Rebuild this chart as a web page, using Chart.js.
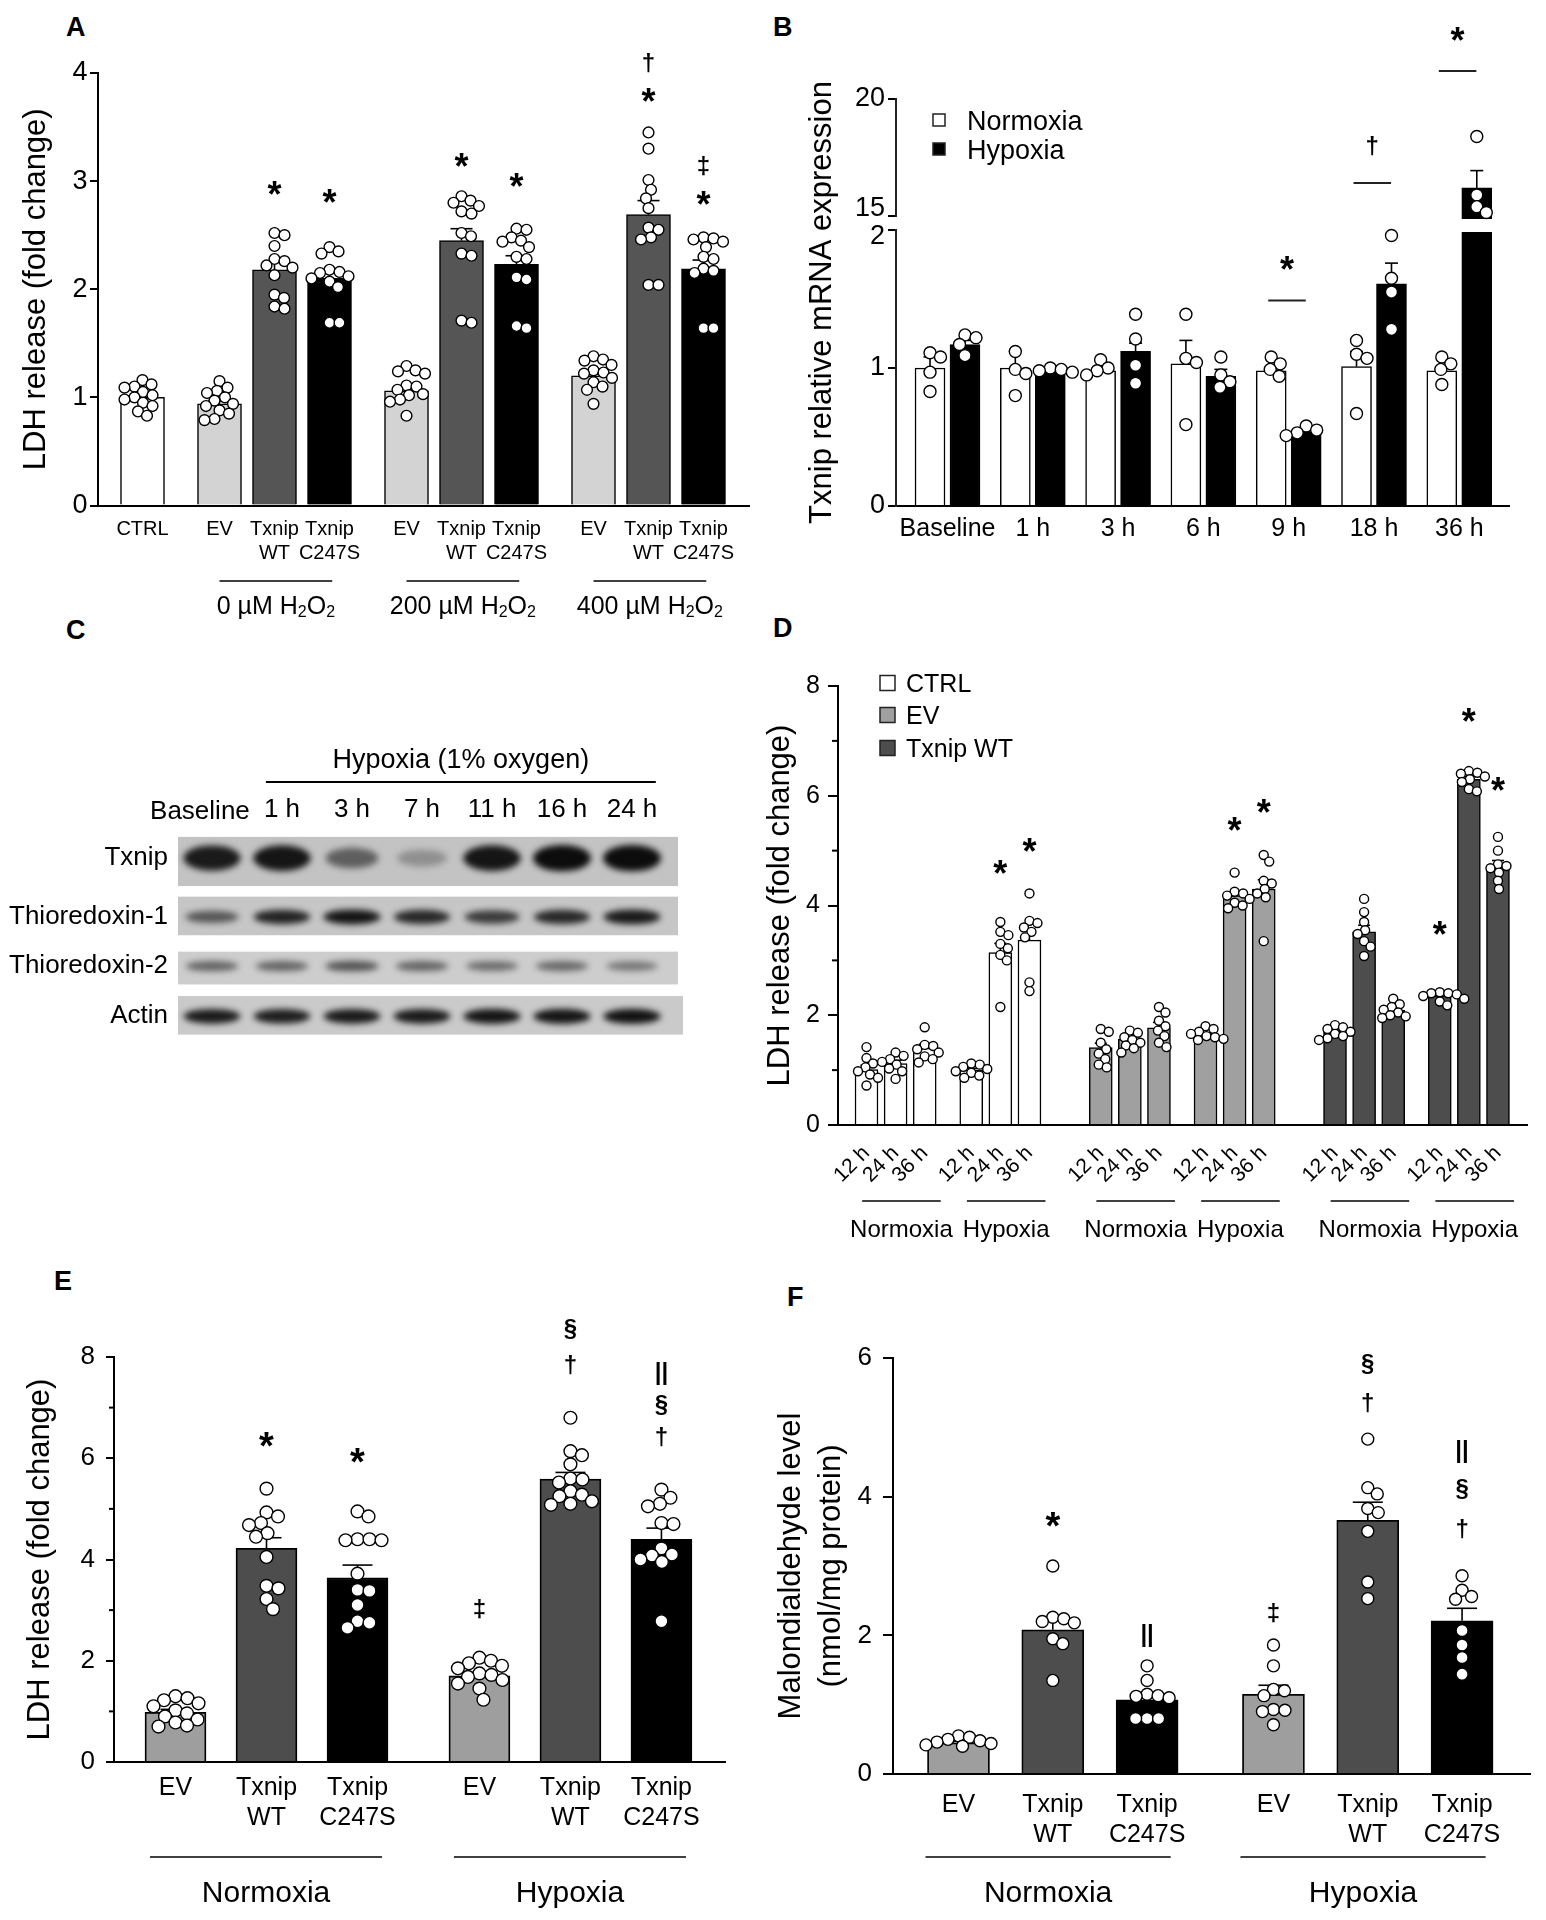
<!DOCTYPE html>
<html>
<head>
<meta charset="utf-8">
<title>Txnip figure</title>
<script src="https://cdn.jsdelivr.net/npm/chart.js@4.4.1/dist/chart.umd.min.js"></script>
<style>
  html, body { margin: 0; padding: 0; background: #fff; }
  #page { position: relative; width: 1546px; height: 1920px; overflow: hidden; background: #fff; }
  #page canvas { position: absolute; }
  .tag { position: absolute; font: bold 27px "Liberation Sans", Arial, sans-serif; line-height: 27px; color: #000; }
</style>
</head>
<body>
<div id="page">
  <div class="tag" style="left:66px;top:14px">A</div>
  <div class="tag" style="left:773px;top:14px">B</div>
  <div class="tag" style="left:66px;top:617px">C</div>
  <div class="tag" style="left:773px;top:615px">D</div>
  <div class="tag" style="left:54px;top:1268px">E</div>
  <div class="tag" style="left:787px;top:1284px">F</div>
</div>
<script>
// ---------- A: LDH release, H2O2 dose ----------
const aConstructs = ['CTRL', 'EV', 'WT', 'C247S', 'EV', 'WT', 'C247S', 'EV', 'WT', 'C247S'];
const aGroupSizes = [1, 3, 3, 3];
const aGroupNames = ['', '0 µM H_2O_2', '200 µM H_2O_2', '400 µM H_2O_2'];
const aMeans = [1.00, 0.94, 2.18, 2.10, 1.06, 2.45, 2.23, 1.20, 2.69, 2.19];
const aSems = [0.03, 0.03, 0.07, 0.06, 0.04, 0.11, 0.08, 0.04, 0.13, 0.08];
const aDots = [
  [1.16, 1.12, 1.10, 1.09, 1.05, 1.02, 1.00, 0.98, 0.95, 0.92, 0.87, 0.83],
  [1.15, 1.09, 1.06, 1.04, 1.00, 0.97, 0.94, 0.92, 0.88, 0.85, 0.80, 0.79],
  [2.52, 2.50, 2.40, 2.28, 2.26, 2.22, 2.20, 2.13, 1.95, 1.92, 1.84, 1.82],
  [2.39, 2.35, 2.33, 2.18, 2.16, 2.15, 2.12, 2.10, 2.07, 2.02, 1.69, 1.69],
  [1.29, 1.25, 1.24, 1.22, 1.11, 1.10, 1.07, 1.03, 1.02, 0.98, 0.96, 0.83],
  [2.86, 2.82, 2.80, 2.77, 2.72, 2.70, 2.52, 2.49, 2.33, 2.31, 1.71, 1.69],
  [2.56, 2.55, 2.48, 2.45, 2.44, 2.39, 2.30, 2.28, 2.11, 2.09, 1.66, 1.64],
  [1.38, 1.35, 1.34, 1.30, 1.25, 1.23, 1.22, 1.18, 1.14, 1.10, 1.07, 0.94],
  [3.45, 3.30, 3.01, 2.92, 2.84, 2.75, 2.57, 2.55, 2.48, 2.46, 2.04, 2.04],
  [2.48, 2.47, 2.46, 2.44, 2.39, 2.30, 2.28, 2.19, 2.17, 2.15, 1.64, 1.64]
];
const aYTicks = [0, 1, 2, 3, 4];
// [bar, level, symbol]
const aMarks = [[2, 2.94, '*'], [3, 2.86, '*'], [5, 3.20, '*'], [6, 3.01, '*'],
  [8, 4.09, '†'], [8, 3.80, '*'], [9, 3.14, '‡'], [9, 2.84, '*']];

// ---------- B: Txnip mRNA, hypoxia time course ----------
const bTimes = ['Baseline', '1 h', '3 h', '6 h', '9 h', '18 h', '36 h'];
const bSeries = ['Normoxia', 'Hypoxia'];
const bNormMeans = [1.00, 1.00, 0.98, 1.03, 0.98, 1.01, 0.98];
const bHypMeans = [1.17, 0.98, 1.12, 0.94, 0.54, 1.61, 16.2];
const bNormSems = [0.08, 0.12, 0.02, 0.17, 0.02, 0.11, 0.02];
const bHypSems = [0.03, 0.01, 0.06, 0.05, 0.02, 0.15, 0.74];
const bNormDots = [[1.11, 1.08, 0.97, 0.83], [1.12, 0.99, 0.96, 0.80], [1.06, 1.00, 0.98, 0.95],
  [1.39, 1.07, 1.04, 0.59], [1.08, 1.03, 0.99, 0.94], [1.20, 1.10, 1.07, 0.67], [1.08, 1.03, 0.99, 0.88]];
const bHypDots = [[1.24, 1.22, 1.17, 1.09], [1.00, 0.99, 0.98, 0.97], [1.39, 1.21, 1.02, 0.89],
  [1.08, 0.95, 0.90, 0.86], [0.58, 0.55, 0.53, 0.51], [1.96, 1.65, 1.55, 1.28], [18.4, 15.9, 15.4, 15.15]];
const bYTicks = [0, 1, 2, 15, 20];
const bBreak = [2, 15];
const bTop = 20;
// [time, line level, symbol level, symbol]
const bSig = [[4, 1.49, 1.69, '*'], [5, 16.41, 17.99, '†'], [6, 21.2, 22.78, '*']];

// ---------- C: western blot ----------
const cLanes = ['Baseline', '1 h', '3 h', '7 h', '11 h', '16 h', '24 h'];
const cProteins = ['Txnip', 'Thioredoxin-1', 'Thioredoxin-2', 'Actin'];
const cTxnip = [0.92, 0.95, 0.55, 0.28, 0.95, 1.00, 1.00];
const cTrx1 = [0.60, 0.88, 0.95, 0.85, 0.75, 0.85, 0.92];
const cTrx2 = [0.55, 0.55, 0.62, 0.55, 0.50, 0.52, 0.45];
const cActin = [0.92, 0.90, 0.92, 0.92, 0.95, 0.95, 0.97];

// ---------- D: LDH release, hypoxia duration ----------
const dConstructs = ['CTRL', 'EV', 'Txnip WT'];
const dConditions = ['Normoxia', 'Hypoxia'];
const dTimes = ['12 h', '24 h', '36 h'];
const dMeans = [1.01, 1.12, 1.40, 1.00, 3.14, 3.37, 1.41, 1.56, 1.77, 1.65, 4.18, 4.30, 1.72, 3.52, 2.09, 2.35, 6.30, 4.72];
const dSems = [0.08, 0.06, 0.07, 0.03, 0.17, 0.20, 0.08, 0.05, 0.10, 0.03, 0.07, 0.17, 0.03, 0.12, 0.04, 0.03, 0.05, 0.10];
const dDots = [
  [1.42, 1.22, 1.12, 1.05, 0.98, 0.92, 0.86, 0.72],
  [1.32, 1.26, 1.20, 1.15, 1.10, 1.03, 0.98, 0.84],
  [1.78, 1.46, 1.44, 1.38, 1.32, 1.25, 1.20, 1.14],
  [1.12, 1.10, 1.06, 1.02, 0.98, 0.95, 0.90, 0.86],
  [3.70, 3.52, 3.46, 3.30, 3.22, 3.10, 3.00, 2.15],
  [4.22, 3.72, 3.68, 3.60, 3.52, 3.42, 2.60, 2.44],
  [1.75, 1.70, 1.50, 1.38, 1.30, 1.20, 1.10, 1.05],
  [1.72, 1.68, 1.60, 1.55, 1.50, 1.45, 1.40, 1.32],
  [2.15, 2.05, 1.90, 1.80, 1.72, 1.62, 1.50, 1.42],
  [1.80, 1.75, 1.70, 1.66, 1.62, 1.60, 1.57, 1.55],
  [4.60, 4.25, 4.22, 4.18, 4.12, 4.05, 4.00, 3.95],
  [4.92, 4.80, 4.45, 4.40, 4.30, 4.22, 4.15, 3.35],
  [1.82, 1.78, 1.75, 1.70, 1.66, 1.62, 1.58, 1.55],
  [4.12, 3.88, 3.70, 3.55, 3.48, 3.35, 3.25, 3.08],
  [2.30, 2.20, 2.15, 2.10, 2.05, 2.00, 1.98, 1.95],
  [2.42, 2.40, 2.40, 2.38, 2.35, 2.30, 2.25, 2.18],
  [6.45, 6.42, 6.40, 6.35, 6.30, 6.25, 6.12, 6.08],
  [5.25, 5.00, 4.75, 4.72, 4.68, 4.60, 4.45, 4.30]
];
const dYTicks = [0, 2, 4, 6, 8];
const dMinor = [1, 3, 5, 7];
const dMarks = [[4, 4.70, '*'], [5, 5.10, '*'], [10, 5.48, '*'], [11, 5.81, '*'], [15, 3.59, '*'], [16, 7.47, '*'], [17, 6.21, '*']];

// ---------- E: LDH release, Txnip mutants ----------
const eConstructs = ['EV', 'WT', 'C247S'];
const eConditions = ['Normoxia', 'Hypoxia'];
const eMeans = [0.98, 4.22, 3.64, 1.70, 5.59, 4.40];
const eSems = [0.06, 0.21, 0.25, 0.07, 0.13, 0.22];
const eDots = [
  [1.30, 1.26, 1.22, 1.16, 1.10, 1.02, 0.96, 0.90, 0.84, 0.78, 0.72, 0.70],
  [5.40, 4.93, 4.85, 4.72, 4.68, 4.52, 4.45, 4.05, 3.48, 3.43, 3.22, 3.02],
  [4.95, 4.85, 4.40, 4.40, 4.38, 4.38, 3.72, 3.40, 3.38, 3.10, 2.78, 2.75, 2.65],
  [2.06, 2.00, 1.95, 1.90, 1.85, 1.75, 1.72, 1.68, 1.62, 1.55, 1.45, 1.23],
  [6.80, 6.14, 6.06, 5.88, 5.60, 5.58, 5.52, 5.35, 5.28, 5.25, 5.15, 5.10, 5.08],
  [5.38, 5.22, 5.10, 5.05, 4.72, 4.70, 4.22, 4.10, 4.08, 4.00, 3.95, 2.78]
];
const eYTicks = [0, 2, 4, 6, 8];
const eMinor = [1, 3, 5, 7];
const eMarks = [[1, 6.38, '*'], [2, 6.05, '*'], [3, 3.02, '‡'], [4, 8.56, '§'], [4, 7.85, '†'],
  [5, 7.67, '||'], [5, 7.06, '§'], [5, 6.42, '†']];

// ---------- F: malondialdehyde ----------
const fMeans = [0.45, 2.08, 1.07, 1.15, 3.66, 2.21];
const fSems = [0.02, 0.17, 0.09, 0.13, 0.26, 0.18];
const fDots = [
  [0.55, 0.53, 0.50, 0.48, 0.46, 0.44, 0.42, 0.40],
  [3.00, 2.26, 2.24, 2.20, 2.18, 1.95, 1.88, 1.35],
  [1.56, 1.35, 1.15, 1.13, 1.12, 1.10, 0.80, 0.80, 0.80],
  [1.86, 1.56, 1.22, 1.20, 1.13, 0.93, 0.92, 0.90, 0.71],
  [4.83, 4.13, 4.04, 3.83, 3.77, 3.50, 2.77, 2.53],
  [2.86, 2.65, 2.56, 2.52, 2.07, 1.86, 1.68, 1.44]
];
const fYTicks = [0, 2, 4, 6];
const fMarks = [[1, 3.67, '*'], [2, 2.00, '||'], [3, 2.32, '‡'], [4, 5.92, '§'], [4, 5.35, '†'],
  [5, 4.65, '||'], [5, 4.11, '§'], [5, 3.53, '†']];

// ---------- helpers ----------
const FONT = '"Liberation Sans", Arial, Helvetica, sans-serif';
Chart.defaults.font.family = FONT;
Chart.defaults.color = '#000';
const page = document.getElementById('page');

function font(size, bold) { return (bold ? 'bold ' : '') + size + 'px ' + FONT; }

function addCanvas(b) {
  const cv = document.createElement('canvas');
  cv.width = b.w; cv.height = b.h;
  cv.style.left = b.l + 'px'; cv.style.top = b.t + 'px';
  cv.style.width = b.w + 'px'; cv.style.height = b.h + 'px';
  page.appendChild(cv);
  return cv;
}

function line(ctx, x1, y1, x2, y2, w) {
  ctx.lineWidth = w;
  ctx.beginPath(); ctx.moveTo(x1, y1); ctx.lineTo(x2, y2); ctx.stroke();
}

// symbol centred on (x, cy) using its real ink box
function sym(ctx, t, x, cy, size) {
  ctx.font = font(size, true);
  const m = ctx.measureText(t);
  ctx.textAlign = 'center'; ctx.textBaseline = 'alphabetic';
  ctx.fillText(t, x, cy + (m.actualBoundingBoxAscent - m.actualBoundingBoxDescent) / 2);
}

// text with _2 style subscripts, cap-centred on cy
function rich(ctx, str, cx, cy, size) {
  const items = str.split(/_(\d)/).map((t, i) => ({ t, sub: i % 2 === 1 })).filter(o => o.t);
  const sub = Math.round(size * 0.62);
  let w = 0;
  items.forEach(o => { ctx.font = font(o.sub ? sub : size); o.w = ctx.measureText(o.t).width; w += o.w; });
  let x = cx - w / 2;
  const base = cy + size * 0.358;
  ctx.textAlign = 'left'; ctx.textBaseline = 'alphabetic';
  items.forEach(o => {
    ctx.font = font(o.sub ? sub : size);
    ctx.fillText(o.t, x, o.sub ? base + size * 0.12 : base);
    x += o.w;
  });
}

function slots(sizes, gaps) {
  const out = [];
  let p = 0;
  sizes.forEach((n, g) => {
    if (g) p += Array.isArray(gaps) ? gaps[g - 1] : gaps;
    for (let k = 0; k < n; k++) { out.push(p); p += 1; }
  });
  return out;
}

function groupSpans(sizes, names) {
  const out = [];
  let i = 0;
  sizes.forEach((n, g) => {
    if (names[g]) out.push({ from: i, to: i + n - 1, name: names[g] });
    i += n;
  });
  return out;
}

// simple beeswarm: each dot takes the nearest free horizontal slot (px)
function swarm(vals, r, yPx) {
  const dMin = 2 * r * 0.92;
  const placed = [];
  return vals.map(v => {
    const yy = yPx(v);
    let off = 0;
    for (let s = 0; s < 400; s++) {
      const c = s === 0 ? 0 : (s % 2 ? 1 : -1) * Math.ceil(s / 2) * 0.5;
      if (placed.every(q => Math.hypot(q.x - c, q.y - yy) >= dMin)) { off = c; break; }
    }
    placed.push({ x: off, y: yy });
    return off;
  });
}

// broken axis for B: 0-2 below the break, 15-20 above it
const bFracLow = 276 / 407, bFracHigh = 117 / 407;
function bDecimal(v) {
  if (v <= bBreak[0]) return v / bBreak[0] * bFracLow;
  if (v >= bBreak[1]) return 1 - (bTop - v) / (bTop - bBreak[1]) * bFracHigh;
  return bFracLow + (v - bBreak[0]) / (bBreak[1] - bBreak[0]) * (1 - bFracLow - bFracHigh);
}
class BrokenLinearScale extends Chart.LinearScale {
  getPixelForValue(value) { return this.getPixelForDecimal(bDecimal(value)); }
  getValueForPixel(pixel) {
    const d = this.getDecimalForPixel(pixel);
    if (d <= bFracLow) return d / bFracLow * bBreak[0];
    if (d >= 1 - bFracHigh) return bTop - (1 - d) / bFracHigh * (bTop - bBreak[1]);
    return bBreak[0] + (d - bFracLow) / (1 - bFracLow - bFracHigh) * (bBreak[1] - bBreak[0]);
  }
}
BrokenLinearScale.id = 'brokenLinear';
BrokenLinearScale.defaults = {};
Chart.register(BrokenLinearScale);

function decor(p) {
  return {
    id: 'decor' + p.id,
    afterDatasetDraw(chart, args) {
      if (args.index !== 0) return;
      const { ctx, scales: { x, y }, chartArea: a } = chart;
      ctx.save();
      if (p.gap) {
        ctx.fillStyle = '#fff';
        const g0 = y.getPixelForValue(p.gap[1]) + 3, g1 = y.getPixelForValue(p.gap[0]) + 2;
        ctx.fillRect(a.left + 1, g0, a.right - a.left, g1 - g0);
      }
      ctx.strokeStyle = '#000';
      p.pos.forEach((px, i) => {
        const cx = x.getPixelForValue(px);
        const y0 = y.getPixelForValue(p.means[i]);
        const y1 = y.getPixelForValue(p.means[i] + p.sems[i]);
        line(ctx, cx, y0, cx, y1, 1.6);
        line(ctx, cx - p.capW, y1, cx + p.capW, y1, 1.6);
      });
      ctx.restore();
    },
    afterDraw(chart) {
      const { ctx, scales: { x, y }, chartArea: a } = chart;
      const top = p.box.t, left = p.box.l;
      ctx.save();
      ctx.fillStyle = '#000'; ctx.strokeStyle = '#000';
      (p.minor || []).forEach(v => {
        const yy = y.getPixelForValue(v);
        line(ctx, a.left - p.minorLen, yy, a.left, yy, 2);
      });
      (p.marks || []).forEach(([i, v, t]) => {
        sym(ctx, t, x.getPixelForValue(p.pos[i]), y.getPixelForValue(v), t === '*' ? p.starSize : p.symSize);
      });
      (p.groups || []).forEach(g => {
        const x1 = x.getPixelForValue(p.pos[g.from] + p.groupExt[0]);
        const x2 = x.getPixelForValue(p.pos[g.to] + p.groupExt[1]);
        line(ctx, x1, p.groupLineY - top, x2, p.groupLineY - top, 1.6);
        rich(ctx, g.name, (x1 + x2) / 2, p.groupLabelY - top, p.groupFont);
      });
      if (p.legend) {
        const L = p.legend;
        L.items.forEach((it, k) => {
          const cy = L.ys[k] - top, lx = L.x - left;
          ctx.fillStyle = it.color;
          ctx.fillRect(lx, cy - L.size / 2, L.size, L.size);
          ctx.strokeStyle = '#222'; ctx.lineWidth = 1.5;
          ctx.strokeRect(lx, cy - L.size / 2, L.size, L.size);
          ctx.fillStyle = '#000';
          ctx.font = font(L.font); ctx.textAlign = 'left'; ctx.textBaseline = 'alphabetic';
          ctx.fillText(it.label, L.textX - left, cy + 0.358 * L.font);
        });
      }
      if (p.extra) p.extra(chart, ctx);
      ctx.restore();
    }
  };
}

function barPanel(p) {
  const cv = addCanvas(p.box);
  const xmin = (p.area.l - p.x0) / p.unit;
  const xmax = (p.area.r - p.x0) / p.unit;
  const areaH = p.area.b - p.area.t;
  const dec = p.decimal || (v => (v - p.ymin) / (p.ymax - p.ymin));
  const dots = [];
  p.dots.forEach((vals, i) => {
    const offs = swarm(vals, p.dotR, v => dec(v) * areaH);
    vals.forEach((v, k) => dots.push({ x: p.pos[i] + offs[k] / p.unit, y: v }));
  });
  const tickPos = p.tickPos || p.pos;
  const tickLabels = p.tickLabels || p.labels;
  return new Chart(cv, {
    type: 'bar',
    data: {
      datasets: [
        { type: 'bar', order: 2, data: p.pos.map((x, i) => ({ x, y: p.means[i] })), backgroundColor: p.colors,
          borderColor: '#000', borderWidth: p.barBorder, barThickness: p.barW, borderSkipped: 'start' },
        { type: 'scatter', order: 1, data: dots, pointRadius: p.dotR, pointHoverRadius: p.dotR,
          pointBackgroundColor: '#fff', pointBorderColor: '#000', pointBorderWidth: 1.4 }
      ]
    },
    options: {
      responsive: false, animation: false, events: [], devicePixelRatio: 1,
      layout: { padding: { left: p.padL, top: p.area.t - p.box.t, right: p.box.l + p.box.w - p.area.r, bottom: 0 } },
      plugins: { legend: { display: false }, tooltip: { enabled: false } },
      scales: {
        x: {
          type: 'linear', min: xmin, max: xmax, offset: false, z: 1,
          grid: { display: false, drawTicks: false, offset: false },
          border: { display: true, color: '#000', width: 2 },
          afterBuildTicks: s => { s.ticks = tickPos.map(v => ({ value: v })); },
          afterFit: s => { s.height = p.box.t + p.box.h - p.area.b; },
          ticks: {
            autoSkip: false, maxRotation: p.rot || 0, minRotation: p.rot || 0, padding: p.xPad,
            font: { size: p.xFont, lineHeight: 1.2 }, color: '#000',
            callback: (v, i) => tickLabels[i]
          }
        },
        y: {
          type: p.yType || 'linear', min: p.ymin, max: p.ymax, z: 1,
          afterBuildTicks: s => { s.ticks = p.yTicks.map(v => ({ value: v })); },
          afterFit: s => { s.width = p.area.l - p.box.l - p.padL; },
          grid: { display: true, drawOnChartArea: false, drawTicks: true, tickLength: p.tickLen, color: '#000', lineWidth: 2 },
          border: { display: !p.ownAxis, color: '#000', width: 2 },
          ticks: {
            autoSkip: false, padding: p.yPad, font: { size: p.yFont }, color: '#000',
            callback: v => (p.yTickLabel ? p.yTickLabel(v) : String(v))
          },
          title: { display: true, text: p.yTitle, font: { size: p.titleFont, lineHeight: p.titleLH || 1.2 }, color: '#000', padding: 0 }
        }
      }
    },
    plugins: [decor(p)]
  });
}

const xLabel = { CTRL: 'CTRL', EV: 'EV', WT: ['Txnip', 'WT'], C247S: ['Txnip', 'C247S'] };

// ---------- A ----------
const aPalette = { CTRL: '#ffffff', EV: '#d3d3d3', WT: '#555555', C247S: '#000000' };
barPanel({
  id: 'A', box: { l: 0, t: 0, w: 765, h: 625 }, area: { l: 98, t: 73, r: 749, b: 505.5 },
  x0: 142.5, unit: 55, pos: slots(aGroupSizes, 0.4), means: aMeans, sems: aSems, dots: aDots,
  colors: aConstructs.map(c => aPalette[c]), labels: aConstructs.map(c => xLabel[c]),
  ymin: 0, ymax: 4, yTicks: aYTicks, yTitle: 'LDH release (fold change)',
  padL: 17.4, titleFont: 31, yFont: 27, yPad: 2.5, tickLen: 8, xFont: 20, xPad: 11.5,
  barW: 44, barBorder: 1.5, dotR: 5.4, capW: 11, marks: aMarks, starSize: 36, symSize: 24,
  groups: groupSpans(aGroupSizes, aGroupNames), groupExt: [0, 0.05], groupLineY: 581, groupLabelY: 605, groupFont: 25
});

// ---------- B ----------
const bPos = [], bMeans = [], bSems = [], bDots = [], bColors = [];
bTimes.forEach((t, k) => {
  bPos.push(k - 0.205, k + 0.205);
  bMeans.push(bNormMeans[k], bHypMeans[k]);
  bSems.push(bNormSems[k], bHypSems[k]);
  bDots.push(bNormDots[k], bHypDots[k]);
  bColors.push('#ffffff', '#000000');
});
barPanel({
  id: 'B', box: { l: 770, t: 0, w: 776, h: 560 }, area: { l: 896, t: 99, r: 1509, b: 506 },
  x0: 947.5, unit: 85.3, pos: bPos, means: bMeans, sems: bSems, dots: bDots, colors: bColors,
  tickPos: bTimes.map((t, k) => k), tickLabels: bTimes,
  yType: 'brokenLinear', decimal: bDecimal, ymin: 0, ymax: bTop, yTicks: bYTicks, ownAxis: true, gap: bBreak,
  yTickLabel: v => (v === bBreak[0] || v === bBreak[1]) ? '' : String(v),
  yTitle: 'Txnip relative mRNA expression', padL: 33.4, titleFont: 31, yFont: 27, yPad: 3, tickLen: 8,
  xFont: 25, xPad: 8, barW: 30, barBorder: 1.5, dotR: 6, capW: 6.5,
  legend: { x: 933, ys: [120, 149], size: 12, font: 27, textX: 967,
    items: [{ label: bSeries[0], color: '#ffffff' }, { label: bSeries[1], color: '#000000' }] },
  extra(chart, ctx) {
    const { scales: { x, y }, chartArea: a } = chart;
    line(ctx, a.left, y.getPixelForValue(bTop) - 1, a.left, y.getPixelForValue(bBreak[1]) + 1, 2);
    line(ctx, a.left, y.getPixelForValue(bBreak[0]) - 1, a.left, y.getPixelForValue(0) + 1, 2);
    ctx.font = font(27); ctx.textAlign = 'right'; ctx.textBaseline = 'middle';
    ctx.fillText(String(bBreak[1]), a.left - 11, y.getPixelForValue(bBreak[1]) - 7);
    ctx.fillText(String(bBreak[0]), a.left - 11, y.getPixelForValue(bBreak[0]) + 7);
    bSig.forEach(([k, lv, sv, t]) => {
      const yy = y.getPixelForValue(lv);
      line(ctx, x.getPixelForValue(k - 0.24), yy, x.getPixelForValue(k + 0.2), yy, 2);
      sym(ctx, t, x.getPixelForValue(k - 0.02), y.getPixelForValue(sv), t === '*' ? 36 : 24);
    });
  }
});

// ---------- C ----------
(function blotPanel() {
  const box = { l: 0, t: 625, w: 745, h: 440 };
  const cv = addCanvas(box);
  const bands = [cTxnip, cTrx1, cTrx2, cActin];
  // row layout in px below the blot top: centre, strip span, band half height, strip tone
  const rows = [
    { c: 26, s: [4, 55], h: 12, bg: '#c3c3c3' },
    { c: 87, s: [66, 106], h: 7, bg: '#c6c6c6' },
    { c: 138, s: [123, 157], h: 6, bg: '#cdcdcd' },
    { c: 190, s: [169, 209], h: 7, bg: '#cacaca' }
  ];
  const blot = {
    id: 'blot',
    beforeDatasetsDraw(chart) {
      const { ctx, chartArea: a, scales: { x, y } } = chart;
      ctx.save();
      rows.forEach((r, ri) => {
        const t = y.getPixelForValue(r.s[0]), b = y.getPixelForValue(r.s[1]);
        ctx.fillStyle = r.bg;
        ctx.fillRect(a.left + 1, t, a.right - a.left + (ri === 3 ? 5 : 0), b - t);
        bands[ri].forEach((k, lane) => {
          const cx = x.getPixelForValue(lane + 1);
          const cy = y.getPixelForValue(r.c);
          ctx.filter = 'blur(3px)';
          ctx.fillStyle = 'rgba(12,12,12,' + k + ')';
          ctx.beginPath();
          ctx.ellipse(cx, cy, 29 * (0.8 + 0.2 * k), r.h * (0.55 + 0.55 * k), 0, 0, Math.PI * 2);
          ctx.fill();
        });
        ctx.filter = 'none';
      });
      ctx.strokeStyle = '#000'; ctx.fillStyle = '#000';
      const x1 = x.getPixelForValue(1.77), x2 = x.getPixelForValue(7.34);
      line(ctx, x1, a.top - 51, x2, a.top - 51, 2);
      ctx.font = font(27); ctx.textAlign = 'center'; ctx.textBaseline = 'alphabetic';
      ctx.fillText('Hypoxia (1% oxygen)', (x1 + x2) / 2, a.top - 75 + 27 * 0.358);
      // the long first lane label sits a little left of its lane, as in the figure
      ctx.font = font(26); ctx.textAlign = 'right';
      ctx.fillText(cLanes[0], x.getPixelForValue(1.54), a.top - 23 + 26 * 0.358);
      ctx.restore();
    }
  };
  new Chart(cv, {
    type: 'scatter',
    data: { datasets: [{ data: [] }] },
    options: {
      responsive: false, animation: false, events: [], devicePixelRatio: 1,
      layout: { padding: { left: 0, top: 0, right: 68, bottom: 17 } },
      plugins: { legend: { display: false }, tooltip: { enabled: false } },
      scales: {
        x: {
          type: 'linear', position: 'top', min: 0.5, max: 0.5 + 500 / 70,
          grid: { display: false, drawTicks: false }, border: { display: false },
          afterBuildTicks: s => { s.ticks = cLanes.map((l, i) => ({ value: i + 1 })); },
          afterFit: s => { s.height = 208; },
          ticks: { autoSkip: false, maxRotation: 0, padding: 7.4, font: { size: 26 }, color: '#000',
            callback: (v, i) => (i === 0 ? '' : cLanes[i]) }
        },
        y: {
          type: 'linear', min: 0, max: 215, reverse: true,
          grid: { display: false, drawTicks: false }, border: { display: false },
          afterBuildTicks: s => { s.ticks = rows.map(r => ({ value: r.c })); },
          afterFit: s => { s.width = 177; },
          ticks: { autoSkip: false, padding: 9, font: { size: 26 }, color: '#000', callback: (v, i) => cProteins[i] }
        }
      }
    },
    plugins: [blot]
  });
})();

// ---------- D ----------
const dPalette = { 'CTRL': '#ffffff', 'EV': '#a0a0a0', 'Txnip WT': '#4d4d4d' };
const dGroups = [];
dConstructs.forEach((c, ci) => dConditions.forEach((cond, j) => {
  dGroups.push({ from: ci * 6 + j * 3, to: ci * 6 + j * 3 + 2, name: cond });
}));
barPanel({
  id: 'D', box: { l: 745, t: 625, w: 801, h: 625 }, area: { l: 838, t: 686, r: 1527, b: 1125 },
  x0: 866.5, unit: 29.1, pos: slots([3, 3, 3, 3, 3, 3], [0.6, 1.45, 0.6, 1.45, 0.6]),
  means: dMeans, sems: dSems, dots: dDots,
  colors: dConstructs.flatMap(c => Array(6).fill(dPalette[c])),
  labels: dConstructs.flatMap(() => dConditions.flatMap(() => dTimes)),
  ymin: 0, ymax: 8, yTicks: dYTicks, minor: dMinor, minorLen: 6,
  yTitle: 'LDH release (fold change)', padL: 16.4, titleFont: 31, yFont: 25, yPad: 8, tickLen: 10,
  xFont: 21, xPad: 16, rot: 45, barW: 23, barBorder: 1.5, dotR: 4.5, capW: 6,
  marks: dMarks, starSize: 36, symSize: 24,
  groups: dGroups, groupExt: [-0.15, 0.55], groupLineY: 1201, groupLabelY: 1228, groupFont: 24,
  legend: { x: 880, ys: [683, 715, 748], size: 15, font: 25, textX: 906,
    items: dConstructs.map(c => ({ label: c, color: dPalette[c] })) }
});

// ---------- E & F ----------
const efPalette = { EV: '#9e9e9e', WT: '#4d4d4d', C247S: '#000000' };
const efConstructs = eConditions.flatMap(() => eConstructs);
const efPos = slots([3, 3], 0.34);
const efGroups = groupSpans([3, 3], eConditions);
barPanel({
  id: 'E', box: { l: 0, t: 1260, w: 760, h: 660 }, area: { l: 114, t: 1357, r: 725, b: 1762 },
  x0: 175.5, unit: 91, pos: efPos, means: eMeans, sems: eSems, dots: eDots,
  colors: efConstructs.map(c => efPalette[c]), labels: efConstructs.map(c => xLabel[c]),
  ymin: 0, ymax: 8, yTicks: eYTicks, minor: eMinor, minorLen: 5,
  yTitle: 'LDH release (fold change)', padL: 21.4, titleFont: 31, yFont: 26, yPad: 11, tickLen: 8,
  xFont: 25, xPad: 11, barW: 61, barBorder: 1.8, dotR: 6.4, capW: 15,
  marks: eMarks, starSize: 38, symSize: 24,
  groups: efGroups, groupExt: [-0.28, 0.27], groupLineY: 1857, groupLabelY: 1891, groupFont: 30
});
barPanel({
  id: 'F', box: { l: 770, t: 1260, w: 776, h: 660 }, area: { l: 893, t: 1358, r: 1530, b: 1774 },
  x0: 958.5, unit: 94.3, pos: efPos, means: fMeans, sems: fSems, dots: fDots,
  colors: efConstructs.map(c => efPalette[c]), labels: efConstructs.map(c => xLabel[c]),
  ymin: 0, ymax: 6, yTicks: fYTicks,
  yTitle: ['Malondialdehyde level', '(nmol/mg protein)'], titleLH: 1.29,
  padL: 1, titleFont: 31, yFont: 26, yPad: 11, tickLen: 10,
  xFont: 25, xPad: 16, barW: 62, barBorder: 1.8, dotR: 6, capW: 15,
  marks: fMarks, starSize: 38, symSize: 24,
  groups: efGroups, groupExt: [-0.35, 0.25], groupLineY: 1857, groupLabelY: 1891, groupFont: 30
});
</script>
</body>
</html>
